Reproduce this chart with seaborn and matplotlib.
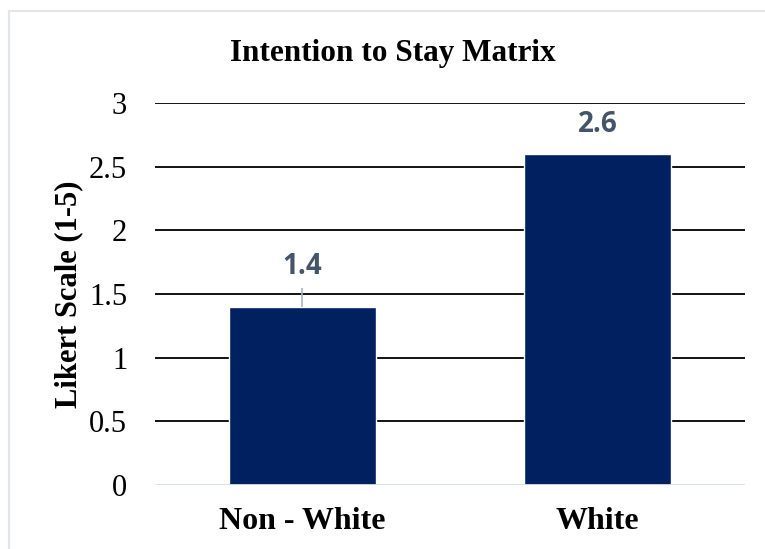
import matplotlib
matplotlib.use("Agg")
import matplotlib.pyplot as plt
import seaborn as sns
import pandas as pd
from matplotlib.lines import Line2D

# Data
groups = ["Non - White", "White"]
scores = [1.4, 2.6]
err_upper = [0.15, 0.0]
y_ticks = [0, 0.5, 1, 1.5, 2, 2.5, 3]
y_tick_labels = ["0", "0.5", "1", "1.5", "2", "2.5", "3"]

df = pd.DataFrame({"Group": groups, "Score": scores})

sns.set_style("white")
plt.rcParams["font.family"] = ["Liberation Serif", "DejaVu Serif"]
plt.rcParams["text.color"] = "black"
plt.rcParams["xtick.color"] = "black"
plt.rcParams["ytick.color"] = "black"
plt.rcParams["axes.labelcolor"] = "black"

fig = plt.figure(figsize=(7.65, 5.49), dpi=100)
ax = fig.add_axes([0.2026, 0.1166, 0.7712, 0.6958])

sns.barplot(
    data=df,
    x="Group",
    y="Score",
    color="#002060",
    saturation=1,
    width=0.5,
    ax=ax,
    zorder=3
)

# small leader/error line above the first bar
ax.errorbar(
    range(len(groups)),
    scores,
    yerr=[[0] * len(groups), err_upper],
    fmt="none",
    ecolor="#A6B4C8",
    elinewidth=1.2,
    capsize=0,
    zorder=4
)

for i, v in enumerate(scores):
    ax.annotate(
        f"{v:.1f}",
        (i, v + err_upper[i]),
        xytext=(0, 21 if err_upper[i] == 0 else 15),
        textcoords="offset points",
        ha="center",
        va="center",
        fontsize=20,
        fontweight="bold",
        color="#44546A",
        family=["Open Sans", "DejaVu Sans"]
    )

ax.set_xlim(-0.5, 1.5)
ax.set_ylim(0, 3)
ax.set_yticks(y_ticks)
ax.set_yticklabels(y_tick_labels, fontsize=22)
ax.set_xticks(range(len(groups)))
ax.set_xticklabels(groups, fontsize=23, fontweight="bold")
ax.tick_params(axis="y", length=0, pad=20)
ax.tick_params(axis="x", length=0, pad=16)

ax.grid(axis="y", color="black", linewidth=1.3, zorder=0)
ax.set_axisbelow(True)
for s in ax.spines.values():
    s.set_visible(False)
ax.axhline(0, color="#D9DEE6", linewidth=2, zorder=5)
ax.get_ygridlines()[0].set_visible(False)

ax.set_xlabel("")
ax.set_ylabel("Likert Scale (1-5)", fontsize=22, fontweight="bold", labelpad=4)

fig.suptitle("Intention to Stay Matrix", fontsize=22.5, fontweight="bold",
             x=0.513, y=0.903, va="center")

# chart frame (top and left edges visible)
fig.add_artist(Line2D([0.012, 1.0], [0.98, 0.98], color="#E1E5EC", linewidth=1.5))
fig.add_artist(Line2D([0.012, 0.012], [0.0, 0.98], color="#E1E5EC", linewidth=1.5))

fig.savefig("out.png", dpi=100)
